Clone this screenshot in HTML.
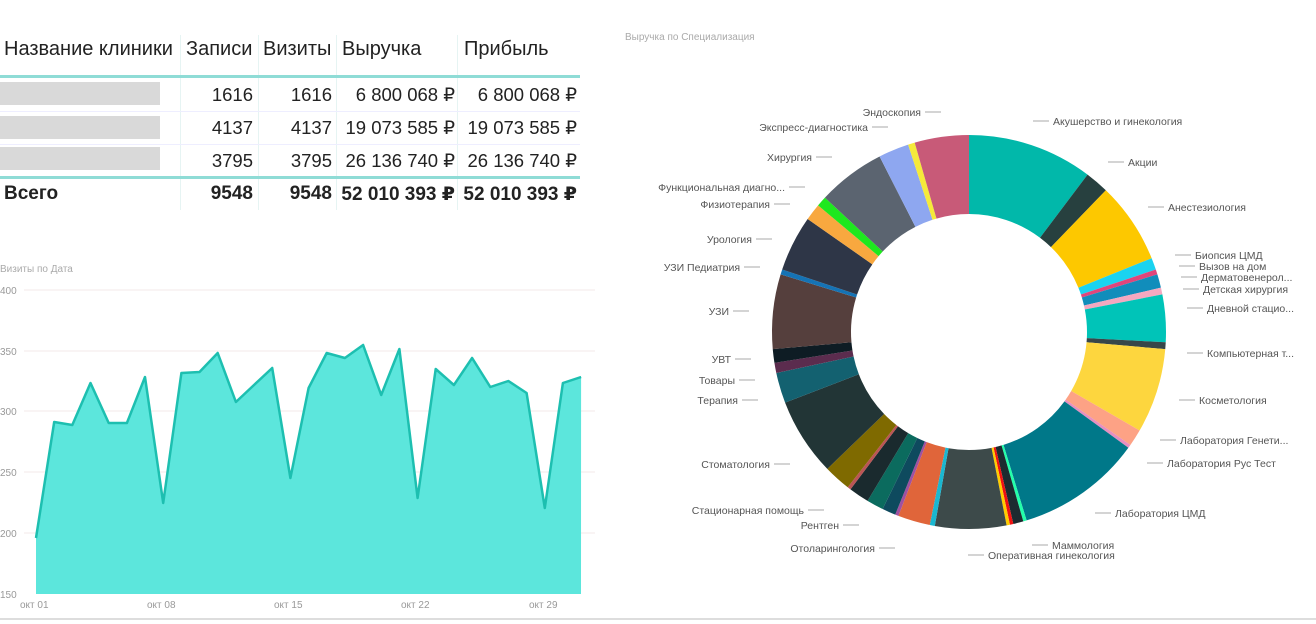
<!DOCTYPE html>
<html><head><meta charset="utf-8"><style>
html,body{margin:0;padding:0;background:#fff;}
body{width:1316px;height:624px;position:relative;overflow:hidden;font-family:"Liberation Sans","DejaVu Sans",sans-serif;}
.t{position:absolute;font-size:18.5px;color:#222;white-space:nowrap;}
.h{font-size:20px;}
.b{font-weight:bold;font-size:19px;}
.blur{position:absolute;left:0;width:160px;height:23px;background:#d9d9d9;}
</style></head><body>
<div style="position:absolute;left:180px;top:35px;width:1px;height:175px;background:#e6f4f3"></div>
<div style="position:absolute;left:258px;top:35px;width:1px;height:175px;background:#e6f4f3"></div>
<div style="position:absolute;left:336px;top:35px;width:1px;height:175px;background:#e6f4f3"></div>
<div style="position:absolute;left:457px;top:35px;width:1px;height:175px;background:#e6f4f3"></div>
<div class="t h" style="left:4px;top:38px">Название клиники</div>
<div class="t h" style="left:186px;top:38px">Записи</div>
<div class="t h" style="left:263px;top:38px">Визиты</div>
<div class="t h" style="left:342px;top:38px">Выручка</div>
<div class="t h" style="left:464px;top:38px">Прибыль</div>
<div style="position:absolute;left:0;top:75px;width:580px;height:3px;background:#8fdcd6"></div>
<div style="position:absolute;left:0;top:111px;width:580px;height:1px;background:#eef"></div>
<div style="position:absolute;left:0;top:144px;width:580px;height:1px;background:#eef"></div>
<div style="position:absolute;left:0;top:176px;width:580px;height:3px;background:#8fdcd6"></div>
<div class="blur" style="top:82px"></div><div class="blur" style="top:116px"></div><div class="blur" style="top:147px"></div>
<div class="t" style="right:1063px;top:84px">1616</div><div class="t" style="right:984px;top:84px">1616</div><div class="t" style="right:861px;top:84px">6 800 068 ₽</div><div class="t" style="right:739px;top:84px">6 800 068 ₽</div>
<div class="t" style="right:1063px;top:117px">4137</div><div class="t" style="right:984px;top:117px">4137</div><div class="t" style="right:861px;top:117px">19 073 585 ₽</div><div class="t" style="right:739px;top:117px">19 073 585 ₽</div>
<div class="t" style="right:1063px;top:150px">3795</div><div class="t" style="right:984px;top:150px">3795</div><div class="t" style="right:861px;top:150px">26 136 740 ₽</div><div class="t" style="right:739px;top:150px">26 136 740 ₽</div>
<div class="t b" style="left:4px;top:183px">Всего</div>
<div class="t b" style="right:1063px;top:183px">9548</div><div class="t b" style="right:984px;top:183px">9548</div><div class="t b" style="right:861px;top:183px">52 010 393 ₽</div><div class="t b" style="right:739px;top:183px">52 010 393 ₽</div>

<svg width="1316" height="624" style="position:absolute;left:0;top:0" id="s" font-family="Liberation Sans, sans-serif">
<text x="0" y="272" font-size="10" fill="#aaa">Визиты по Дата</text>
<text x="625" y="40" font-size="10" fill="#aaa">Выручка по Специализация</text>
<g stroke="#f3eaea" stroke-width="1">
<line x1="24" y1="290" x2="595" y2="290"/><line x1="24" y1="351" x2="595" y2="351"/><line x1="24" y1="411" x2="595" y2="411"/><line x1="24" y1="472" x2="595" y2="472"/><line x1="24" y1="533" x2="595" y2="533"/>
</g>
<g font-size="10" fill="#999">
<text x="0" y="294">400</text><text x="0" y="355">350</text><text x="0" y="415">300</text><text x="0" y="476">250</text><text x="0" y="537">200</text><text x="0" y="598">150</text>
<text x="20" y="608">окт 01</text><text x="147" y="608">окт 08</text><text x="274" y="608">окт 15</text><text x="401" y="608">окт 22</text><text x="529" y="608">окт 29</text>
</g>
<polygon id="area" fill="#5ce6dc"/>
<polyline id="line" fill="none" stroke="#1dbfb0" stroke-width="2.5" stroke-linejoin="round"/>
<line x1="0" y1="619" x2="1316" y2="619" stroke="#ddd" stroke-width="2"/>
<g id="donut"></g>
<g id="lbl" font-size="10.5" fill="#555"></g>
</svg>
<script>
var ys=[538,422,425,383,423,423,377,503,373,372,353,402,385,368,478,388,353,358,345,395,349,498,369,385,358,387,381,393,508,383,377];
var p=[];for(var i=0;i<ys.length;i++)p.push((36+i*18.17).toFixed(1)+","+ys[i]);
document.getElementById('line').setAttribute('points',p.join(' '));
document.getElementById('area').setAttribute('points',"36,594 "+p.join(' ')+" 581,594");
var cx=969,cy=332,R=197,r=118;
var seg=[[0,37,"#01b8aa"],[37,44,"#27403f"],[44,68,"#fdc800"],[68,71.5,"#1ad3f0"],[71.5,73,"#e0457b"],[73,77,"#118dbb"],[77,79,"#f4a8c0"],[79,93,"#00c4b8"],[93,95,"#374649"],[95,120,"#fdd63e"],[120,125,"#fda285"],[125,126,"#e68fc0"],[126,163,"#007889"],[163,164,"#2fa"],[164,167,"#1c2b30"],[167,168,"#e11"],[168,169,"#fc0"],[169,190,"#3d4a4a"],[190,191.5,"#1ab7d0"],[191.5,201,"#e0653a"],[201,202,"#a050a0"],[202,206,"#0e4a5e"],[206,211,"#0b6b5e"],[211,217,"#1a2a2e"],[217,218,"#b55"],[218,226,"#7f6a00"],[226,249,"#223536"],[249,258,"#136170"],[258,261,"#5b2c4e"],[261,265,"#0e1c24"],[265,287,"#553f3d"],[287,288.5,"#1573b5"],[288.5,305,"#2e3647"],[305,310,"#f8a83f"],[310,313,"#1ee81e"],[313,333,"#5b6470"],[333,342,"#8ea7f0"],[342,344,"#f5ea3a"],[344,360,"#c85a78"]];
function pt(a,rad){a=(a-90)*Math.PI/180;return [cx+rad*Math.cos(a),cy+rad*Math.sin(a)];}
var h="";seg.forEach(function(s){var a=pt(s[0],R),b=pt(s[1],R),c=pt(s[1],r),d=pt(s[0],r),l=(s[1]-s[0])>180?1:0;
h+='<path fill="'+s[2]+'" d="M'+a+' A'+R+','+R+' 0 '+l+' 1 '+b+' L'+c+' A'+r+','+r+' 0 '+l+' 0 '+d+'Z"/>';});
document.getElementById('donut').innerHTML=h;
var L=[["Акушерство и гинекология",1053,125,0],["Акции",1128,166,0],["Анестезиология",1168,211,0],["Биопсия ЦМД",1195,259,0],["Вызов на дом",1199,270,0],["Дерматовенерол...",1201,281,0],["Детская хирургия",1203,293,0],["Дневной стацио...",1207,312,0],["Компьютерная т...",1207,357,0],["Косметология",1199,404,0],["Лаборатория Генети...",1180,444,0],["Лаборатория Рус Тест",1167,467,0],["Лаборатория ЦМД",1115,517,0],["Маммология",1052,549,0],["Оперативная гинекология",988,559,0],
["Эндоскопия",921,116,1],["Экспресс-диагностика",868,131,1],["Хирургия",812,161,1],["Функциональная диагно...",785,191,1],["Физиотерапия",770,208,1],["Урология",752,243,1],["УЗИ Педиатрия",740,271,1],["УЗИ",729,315,1],["УВТ",731,363,1],["Товары",735,384,1],["Терапия",738,404,1],["Стоматология",770,468,1],["Стационарная помощь",804,514,1],["Рентген",839,529,1],["Отоларингология",875,552,1]];
var g="";L.forEach(function(l){var y=l[2]-4;
if(l[3]){g+='<text x="'+l[1]+'" y="'+l[2]+'" text-anchor="end">'+l[0]+'</text><line x1="'+(l[1]+4)+'" y1="'+y+'" x2="'+(l[1]+20)+'" y2="'+y+'" stroke="#aaa"/>';}
else{g+='<text x="'+l[1]+'" y="'+l[2]+'">'+l[0]+'</text><line x1="'+(l[1]-20)+'" y1="'+y+'" x2="'+(l[1]-4)+'" y2="'+y+'" stroke="#aaa"/>';}});
document.getElementById('lbl').innerHTML=g;
</script>
</body></html>
